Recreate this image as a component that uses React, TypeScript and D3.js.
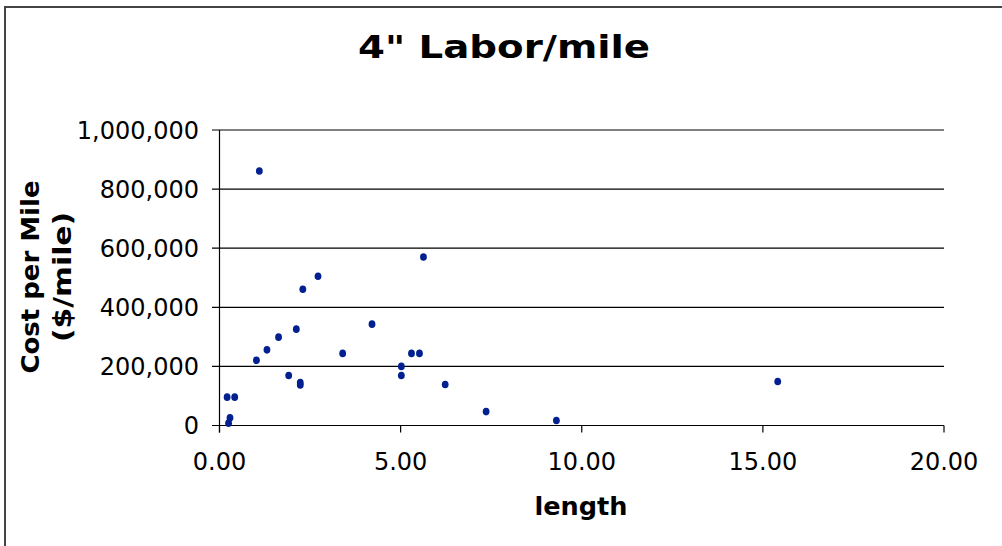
import React from 'react';
import * as d3 from 'd3';

// pipe length (miles) vs labor cost per mile
const lengths = [1.10, 0.21, 0.42, 0.29, 0.25, 1.02, 1.31, 1.63, 1.91, 2.12, 2.23, 2.23, 2.30, 2.72, 3.40, 4.21, 5.02, 5.02, 5.30, 5.52, 5.63, 6.23, 7.36, 9.30, 15.41];
const costs = [861000, 96000, 96000, 26000, 8000, 221000, 256000, 299000, 169000, 326000, 145000, 137000, 461000, 505000, 244000, 343000, 200000, 169000, 244000, 244000, 570000, 139000, 47000, 17000, 149000];
const xTicks = [0, 5, 10, 15, 20];
const yTicks = [0, 200000, 400000, 600000, 800000, 1000000];

const W = 1002;
const H = 546;
const font = 'Verdana, "DejaVu Sans", sans-serif';

const App: React.FC = () => {
  const x = d3.scaleLinear().domain([0, 20]).range([219.5, 944]);
  const y = d3.scaleLinear().domain([0, 1000000]).range([425.5, 130]);
  const fmtY = d3.format(',');
  const fmtX = d3.format('.2f');
  const points = lengths.map((l, i) => ({ l, c: costs[i] }));

  return (
    <svg width={W} height={H} style={{ position: 'absolute', left: 0, top: 0, background: '#fff' }}>
      {/* chart border */}
      <rect x={5} y={7} width={1100} height={600} fill="none" stroke="#444" strokeWidth={2} />

      <text x={504} y={58} textAnchor="middle" fontFamily={font} fontWeight="bold" fontSize={32}
        textLength={292} lengthAdjust="spacingAndGlyphs">
        4" Labor/mile
      </text>

      {/* gridlines + y ticks */}
      {yTicks.map(t => (
        <g key={t}>
          <line x1={212} x2={944} y1={y(t)} y2={y(t)} stroke="#000" strokeWidth={1.2} />
          <text x={199} y={y(t)} dy="0.36em" textAnchor="end" fontFamily={font} fontSize={24}>
            {fmtY(t)}
          </text>
        </g>
      ))}

      {/* y axis */}
      <line x1={x(0)} x2={x(0)} y1={y(1000000)} y2={y(0) + 7} stroke="#000" strokeWidth={1.2} />

      {/* x ticks */}
      {xTicks.map(t => (
        <g key={t}>
          <line x1={x(t)} x2={x(t)} y1={y(0)} y2={y(0) + 7} stroke="#000" strokeWidth={1.2} />
          <text x={x(t)} y={470} textAnchor="middle" fontFamily={font} fontSize={24}>
            {fmtX(t)}
          </text>
        </g>
      ))}

      {points.map((p, i) => (
        <ellipse key={i} cx={x(p.l)} cy={y(p.c)} rx={3.4} ry={3.8} fill="#02208f" />
      ))}

      <text x={581} y={515} textAnchor="middle" fontFamily={font} fontWeight="bold" fontSize={24}
        textLength={93} lengthAdjust="spacingAndGlyphs">
        length
      </text>

      <g transform="translate(30,277) rotate(-90)">
        <text x={0} y={0} dy="0.36em" textAnchor="middle" fontFamily={font} fontWeight="bold" fontSize={24}
          textLength={193} lengthAdjust="spacingAndGlyphs">
          Cost per Mile
        </text>
        <text x={0} y={32} dy="0.36em" textAnchor="middle" fontFamily={font} fontWeight="bold" fontSize={24}
          textLength={130} lengthAdjust="spacingAndGlyphs">
          ($/mile)
        </text>
      </g>
    </svg>
  );
};

export default App;
